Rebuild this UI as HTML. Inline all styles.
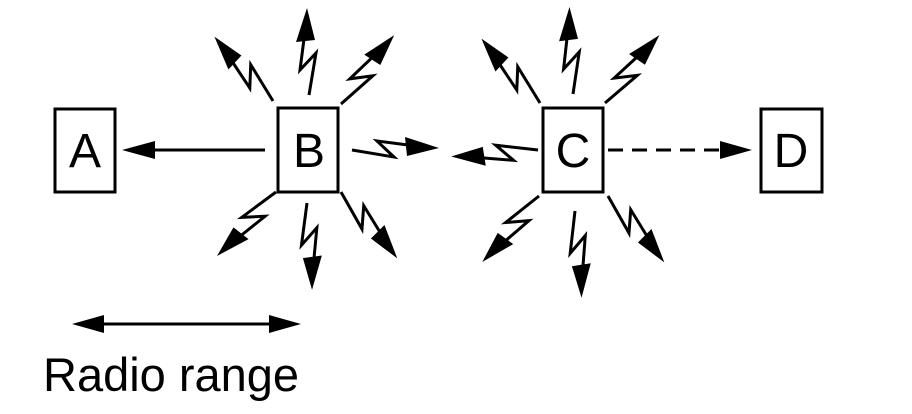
<!DOCTYPE html>
<html><head><style>body{margin:0;background:#fff}svg{display:block}</style></head><body>
<svg width="912" height="414" viewBox="0 0 912 414" xmlns="http://www.w3.org/2000/svg">
<defs>
<g id="bolt">
<polyline points="0,0 7,-42 -9,-25 -5,-56" fill="none" stroke="#000" stroke-width="3" stroke-linejoin="miter"/>
<polygon points="-2,-87 -13,-53 6,-55" fill="#000"/>
</g>
</defs>
<g fill="#fff" stroke="#000" stroke-width="3">
<rect x="55" y="109" width="60" height="83"/>
<rect x="278" y="108" width="60" height="84"/>
<rect x="543" y="108" width="60" height="84"/>
<rect x="761" y="109" width="61" height="83"/>
</g>
<g font-family="Liberation Sans, sans-serif" font-size="48" text-anchor="middle">
<text x="85" y="167">A</text>
<text x="309" y="167">B</text>
<text x="573" y="167">C</text>
<text x="791" y="167">D</text>
</g>
<line x1="265" y1="150" x2="145" y2="150" stroke="#000" stroke-width="3"/>
<polygon points="122,150 155,141 155,159" fill="#000"/>
<line x1="608" y1="150" x2="730" y2="150" stroke="#000" stroke-width="3" stroke-dasharray="15,9"/>
<polygon points="752,150 720,141 720,159" fill="#000"/>
<use href="#bolt" transform="translate(309,95) rotate(0)"/>
<use href="#bolt" transform="translate(273,101) rotate(-41)"/>
<use href="#bolt" transform="translate(341,104) rotate(39)"/>
<use href="#bolt" transform="translate(352,150) rotate(90)"/>
<use href="#bolt" transform="translate(276,192) rotate(-136)"/>
<use href="#bolt" transform="translate(307,203) rotate(178)"/>
<use href="#bolt" transform="translate(341,192) rotate(141)"/>
<use href="#bolt" transform="translate(573,94) rotate(-1)"/>
<use href="#bolt" transform="translate(540,103) rotate(-41)"/>
<use href="#bolt" transform="translate(605,103) rotate(40)"/>
<use href="#bolt" transform="translate(538,150) rotate(-93)"/>
<use href="#bolt" transform="translate(539,196) rotate(-138)"/>
<use href="#bolt" transform="translate(575,211) rotate(177)"/>
<use href="#bolt" transform="translate(608,196) rotate(141)"/>
<line x1="95" y1="324" x2="278" y2="324" stroke="#000" stroke-width="3"/>
<polygon points="72,324 104,315 104,333" fill="#000"/>
<polygon points="301,324 269,315 269,333" fill="#000"/>
<text x="43" y="391" font-family="Liberation Sans, sans-serif" font-size="47">Radio range</text>
</svg>
</body></html>
